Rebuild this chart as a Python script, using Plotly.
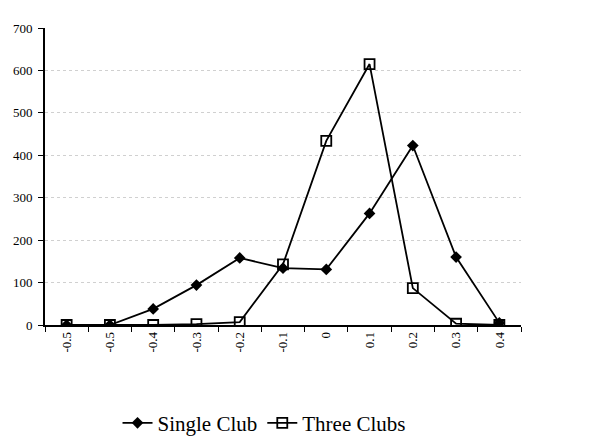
import plotly.graph_objects as go

# Category labels along the x axis (as printed)
x_labels = ["-0.5", "-0.5", "-0.4", "-0.3", "-0.2", "-0.1", "0", "0.1", "0.2", "0.3", "0.4"]

# Series values
single_club = [0, 0, 38, 94, 158, 134, 131, 263, 423, 160, 5]
three_clubs = [0, 0, 0, 2, 7, 143, 434, 615, 87, 3, 0]

y_ticks = [0, 100, 200, 300, 400, 500, 600, 700]

positions = list(range(len(x_labels)))
serif = "'Liberation Serif', 'Times New Roman', Times, serif"

fig = go.Figure()
fig.add_trace(go.Scatter(
    x=positions, y=single_club, name="Single Club",
    mode="lines+markers",
    line=dict(color="black", width=1.8),
    marker=dict(symbol="diamond", size=9, color="black"),
))
fig.add_trace(go.Scatter(
    x=positions, y=three_clubs, name="Three Clubs",
    mode="lines+markers",
    line=dict(color="black", width=1.8),
    marker=dict(symbol="square-open", size=10, color="black", line=dict(width=1.8)),
))

fig.update_layout(
    width=614, height=444,
    margin=dict(l=45, r=93, t=28, b=119, autoexpand=False),
    paper_bgcolor="white", plot_bgcolor="white",
    font=dict(family=serif, color="black", size=13),
    showlegend=True,
    legend=dict(
        orientation="h", xref="container", yref="container",
        x=0.43, xanchor="center", y=0.047, yanchor="middle",
        font=dict(family=serif, size=21, color="black"),
        itemwidth=30, tracegroupgap=0,
    ),
    xaxis=dict(
        range=[-0.5, len(x_labels) - 0.5], automargin=False,
        tickmode="array", tickvals=positions, ticktext=x_labels,
        tickangle=-90, ticks="", showgrid=False, zeroline=False,
        showline=True, linecolor="black", linewidth=1.6,
        tickfont=dict(family=serif, size=13),
        minor=dict(
            tickvals=[p - 0.5 for p in positions] + [len(x_labels) - 0.5],
            ticks="outside", ticklen=5, tickcolor="black", tickwidth=1.3,
            showgrid=False,
        ),
    ),
    yaxis=dict(
        range=[0, 700], tickmode="array", tickvals=y_ticks, automargin=False,
        ticks="outside", ticklen=5, tickcolor="black",
        showline=True, linecolor="black", linewidth=1.6,
        showgrid=True, gridcolor="#d0d0d0", griddash="dot", gridwidth=1,
        zeroline=False,
        ticklabelstandoff=3,
        tickfont=dict(family=serif, size=13),
    ),
)

fig.write_html("out.html")
